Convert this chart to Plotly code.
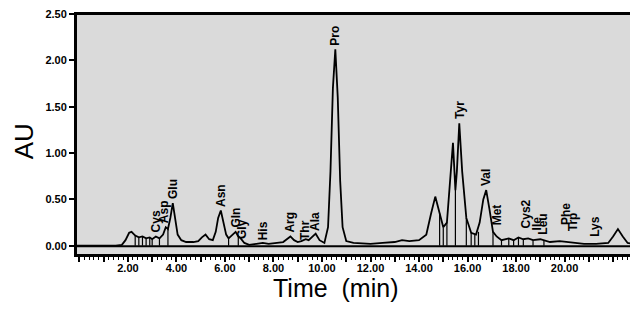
import plotly.graph_objects as go

# ---- chromatogram trace (time in min, absorbance in AU) ----
time_min = [-0.14, 0.5, 1.0, 1.5, 1.75, 1.9, 2.05, 2.15, 2.3, 2.45, 2.6, 2.75, 2.9, 3.0,
            3.15, 3.3, 3.45, 3.56, 3.65, 3.75, 3.85, 3.95, 4.05, 4.2, 4.4, 4.7, 4.9,
            5.05, 5.2, 5.35, 5.5, 5.62, 5.72, 5.83, 5.95, 6.05, 6.15, 6.3, 6.44, 6.55,
            6.65, 6.8, 7.0, 7.3, 7.56, 7.8, 8.1, 8.4, 8.55, 8.7, 8.85, 9.0, 9.15, 9.33,
            9.45, 9.6, 9.74, 9.9, 10.1, 10.25, 10.35, 10.45, 10.55, 10.65, 10.75, 10.85,
            11.0, 11.3, 12.0, 12.5, 13.0, 13.3, 13.6, 14.0, 14.3, 14.5, 14.67, 14.85,
            15.0, 15.15, 15.3, 15.4, 15.5, 15.56, 15.66, 15.78, 15.95, 16.15, 16.35,
            16.5, 16.65, 16.77, 16.9, 17.05, 17.2, 17.4, 17.7, 17.9, 18.1, 18.3, 18.5,
            18.7, 19.0, 19.15, 19.4, 19.8, 20.15, 20.4, 20.8, 21.3, 21.8, 22.0, 22.2,
            22.4, 22.6, 22.78]
absorb_au = [0.0, 0.0, 0.0, 0.0, 0.01, 0.06, 0.14, 0.15, 0.11, 0.09, 0.10, 0.08, 0.09, 0.07,
             0.10, 0.08, 0.12, 0.20, 0.18, 0.30, 0.46, 0.30, 0.12, 0.06, 0.04, 0.04, 0.05,
             0.09, 0.12, 0.07, 0.06, 0.15, 0.30, 0.38, 0.25, 0.12, 0.08, 0.12, 0.15, 0.10,
             0.08, 0.03, 0.01, 0.02, 0.03, 0.02, 0.03, 0.04, 0.07, 0.10, 0.06, 0.04, 0.05, 0.07,
             0.06, 0.10, 0.13, 0.06, 0.03, 0.20, 0.80, 1.70, 2.12, 1.60, 0.70, 0.20,
             0.05, 0.03, 0.02, 0.03, 0.04, 0.06, 0.05, 0.06, 0.12, 0.35, 0.53, 0.35,
             0.20, 0.25, 0.80, 1.11, 0.60, 0.80, 1.32, 0.80, 0.30, 0.14, 0.12,
             0.25, 0.50, 0.60, 0.40, 0.15, 0.10, 0.06, 0.08, 0.06, 0.09, 0.07, 0.08,
             0.06, 0.07, 0.06, 0.04, 0.05, 0.04, 0.03, 0.02, 0.02, 0.03, 0.10, 0.18,
             0.10, 0.03, 0.02]

# integration drop lines (time, curve height at valley)
drop_t = [2.3, 2.45, 2.6, 2.75, 2.9, 3.0, 3.3, 3.65, 6.15, 6.55, 14.85, 15.0, 15.15, 15.5,
          15.95, 16.15, 16.3, 16.45, 17.05, 17.4, 17.7, 17.9, 18.1, 18.3, 18.7, 19.15]
drop_au = [0.11, 0.09, 0.10, 0.08, 0.09, 0.07, 0.08, 0.18, 0.08, 0.10, 0.35, 0.20, 0.25, 0.60,
           0.30, 0.14, 0.12, 0.15, 0.15, 0.06, 0.08, 0.06, 0.09, 0.07, 0.06, 0.06]

# baseline
base_t = [-0.14, 22.78]
base_au = [-0.005, -0.005]

# peak labels
peak_names = ["Cys", "Asp", "Glu", "Asn", "Gln", "Gly", "His", "Arg", "Thr", "Ala", "Pro",
              "Tyr", "Val", "Met", "Cys2", "Ile", "Leu", "Phe", "Trp", "Lys"]
peak_t = [3.15, 3.5, 3.85, 5.83, 6.44, 6.7, 7.56, 8.7, 9.3, 9.74, 10.55,
          15.66, 16.77, 17.2, 18.45, 18.85, 19.1, 20.05, 20.35, 21.26]
peak_au = [0.12, 0.22, 0.48, 0.40, 0.17, 0.05, 0.04, 0.12, 0.04, 0.14, 2.14,
           1.35, 0.62, 0.20, 0.17, 0.14, 0.10, 0.20, 0.13, 0.07]

# axis ticks
x_tickvals = list(range(0, 23))
x_ticktext = ["%.2f" % v if (v % 2 == 0 and 2 <= v <= 20) else "" for v in x_tickvals]
y_tickvals = [0.0, 0.5, 1.0, 1.5, 2.0, 2.5]
y_ticktext = ["%.2f" % v for v in y_tickvals]

fig = go.Figure()

fig.add_trace(go.Scatter(x=base_t, y=base_au, mode="lines",
                         line=dict(color="black", width=2), hoverinfo="skip"))

dx, dy = [], []
for t, a in zip(drop_t, drop_au):
    dx += [t, t, None]
    dy += [0, a, None]
fig.add_trace(go.Scatter(x=dx, y=dy, mode="lines",
                         line=dict(color="black", width=1.2), hoverinfo="skip"))

fig.add_trace(go.Scatter(x=time_min, y=absorb_au, mode="lines",
                         line=dict(color="black", width=1.8)))

for name, t, a in zip(peak_names, peak_t, peak_au):
    fig.add_annotation(x=t, y=a, text="<b>%s</b>" % name, textangle=-90, showarrow=False,
                       xanchor="center", yanchor="bottom",
                       font=dict(family="Liberation Sans, Arial", size=12, color="black"))

fig.add_annotation(xref="paper", yref="paper", x=0.466, y=0, yanchor="middle", yshift=-33,
                   text="Time  (min)", showarrow=False,
                   font=dict(family="Liberation Sans, Arial", size=25, color="black"))
fig.add_annotation(xref="paper", yref="paper", x=-0.093, y=0.473, xanchor="center",
                   yanchor="middle", text="AU", textangle=-90, showarrow=False,
                   font=dict(family="Liberation Sans, Arial", size=26, color="black"))

# plot frame
fig.add_shape(type="rect", xref="paper", yref="paper", x0=0, x1=1, y0=0, y1=1,
              line=dict(color="black", width=2), layer="above")

tickfont = dict(family="Liberation Sans Narrow, Arial Narrow, sans-serif", size=11,
                color="black", weight="bold")

# the page body adds an 8px offset, so the figure is sized to fill the rest of the window
fig.update_layout(
    width=630, height=318,
    margin=dict(l=68, r=6, t=6, b=71, autoexpand=False),
    paper_bgcolor="white",
    plot_bgcolor="#dadada",
    showlegend=False,
    xaxis=dict(range=[-0.14, 22.78], tickmode="array", tickvals=x_tickvals,
               ticktext=x_ticktext, ticks="outside", ticklen=5, tickwidth=1.5,
               tickcolor="black", showgrid=False, zeroline=False, automargin=False,
               showline=True, linecolor="black", linewidth=2, mirror=True,
               tickfont=tickfont, ticklabelstandoff=-3, ticklabeloverflow="allow",
               minor=dict(dtick=0.2, ticks="outside", ticklen=3, tickcolor="black",
                          tickwidth=1, showgrid=False)),
    yaxis=dict(range=[-0.1, 2.5], tickmode="array", tickvals=y_tickvals,
               ticktext=y_ticktext, ticks="outside", ticklen=5, tickwidth=1.5,
               tickcolor="black", showgrid=False, zeroline=False, automargin=False,
               showline=True, linecolor="black", linewidth=2, mirror=True,
               tickfont=tickfont, ticklabeloverflow="allow"),
)

fig.write_html("out.html")
